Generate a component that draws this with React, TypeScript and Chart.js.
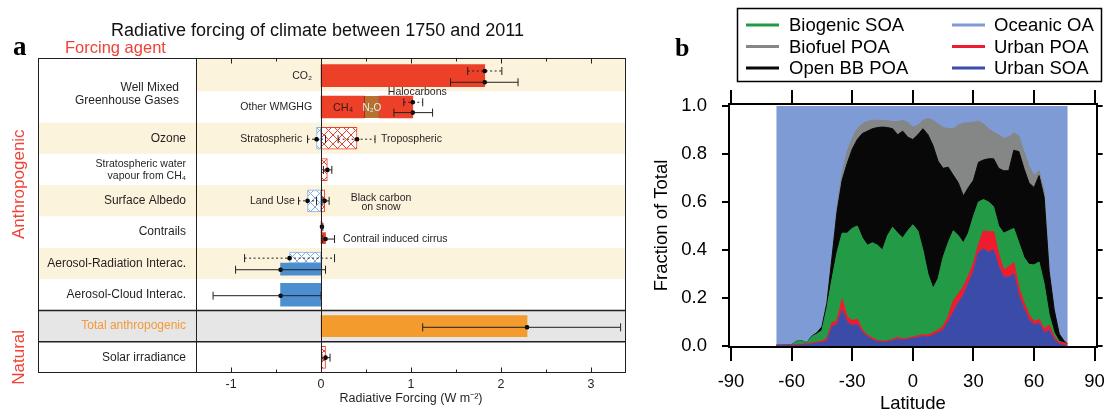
import React, { useEffect, useRef } from "react";
import { Chart, registerables } from "chart.js";

Chart.register(...registerables);

const SANS = '"Liberation Sans", Arial, Helvetica, sans-serif';
const SERIF = '"Liberation Serif", "Times New Roman", serif';
Chart.defaults.font.family = SANS;

/* ================= Panel a : radiative forcing ================= */
const titleA = "Radiative forcing of climate between 1750 and 2011";
const forcingTickLabels = [-1, 0, 1, 2, 3];

const agentLabels = [
  { row: 0.5, lines: ["Well Mixed", "Greenhouse Gases"] },
  { row: 2, lines: ["Ozone"] },
  { row: 3, lines: ["Stratospheric water", "vapour from CH\u2084"] },
  { row: 4, lines: ["Surface Albedo"] },
  { row: 5, lines: ["Contrails"] },
  { row: 6, lines: ["Aerosol-Radiation Interac."] },
  { row: 7, lines: ["Aerosol-Cloud Interac."] },
  { row: 8, lines: ["Total anthropogenic"] },
  { row: 9, lines: ["Solar irradiance"] },
];

// floating bars: y = row position, x = [start, end] in W m-2
const redSolidBars = [
  { y: 0, x: [0, 1.82] },
  { y: 1, x: [0, 0.48] },
  { y: 1, x: [0.65, 1.02] },
];
const n2oBars = [{ y: 1, x: [0.48, 0.65] }];
const redHatchBars = [
  { y: 2, x: [0, 0.4] },
  { y: 3, x: [0, 0.07] },
  { y: 4, x: [0, 0.04] },
  { y: 9, x: [0, 0.05] },
];
const blueHatchBars = [
  { y: 2, x: [-0.05, 0] },
  { y: 4, x: [-0.15, 0] },
];
const redSolidHalfBars = [
  { y: 4.83, x: [0, 0.01] },
  { y: 5.19, x: [0, 0.05] },
];
const blueHatchHalfBars = [{ y: 5.81, x: [-0.35, 0] }];
const blueSolidHalfBars = [{ y: 6.18, x: [-0.45, 0] }];
const blueSolidBars = [{ y: 7, x: [-0.45, 0] }];
const totalBars = [{ y: 8, x: [0, 2.29] }];

// uncertainty ranges
const errorBars = [
  { y: -0.15, lo: 1.63, best: 1.82, hi: 2.01, dotted: true },
  { y: 0.21, lo: 1.44, best: 1.82, hi: 2.19, dotted: false },
  { y: 0.85, lo: 0.92, best: 1.02, hi: 1.13, dotted: true },
  { y: 1.18, lo: 0.81, best: 1.02, hi: 1.24, dotted: false },
  { y: 2.03, lo: -0.15, best: -0.05, hi: 0.05, dotted: true },
  { y: 2.03, lo: 0.19, best: 0.4, hi: 0.6, dotted: true },
  { y: 3.01, lo: 0.026, best: 0.07, hi: 0.12, dotted: false },
  { y: 4.0, lo: -0.25, best: -0.15, hi: -0.05, dotted: true },
  { y: 4.0, lo: 0.02, best: 0.04, hi: 0.09, dotted: false },
  { y: 4.83, lo: 0.005, best: 0.01, hi: 0.02, dotted: false },
  { y: 5.22, lo: 0.02, best: 0.05, hi: 0.15, dotted: false },
  { y: 5.83, lo: -0.85, best: -0.35, hi: 0.15, dotted: true },
  { y: 6.2, lo: -0.95, best: -0.45, hi: 0.05, dotted: false },
  { y: 7.03, lo: -1.2, best: -0.45, hi: 0.0, dotted: false },
  { y: 8.04, lo: 1.13, best: 2.29, hi: 3.33, dotted: false },
  { y: 9.01, lo: 0.01, best: 0.05, hi: 0.1, dotted: false },
];

const plotNotes = [
  { text: "CO\u2082", x: -0.1, y: 0, align: "right" },
  { text: "Other WMGHG", x: -0.1, y: 1, align: "right" },
  { text: "Halocarbons", x: 1.07, y: 0.52, align: "center" },
  { text: "Stratospheric", x: -0.21, y: 2.02, align: "right" },
  { text: "Tropospheric", x: 0.667, y: 2.02, align: "left" },
  { text: "Land Use", x: -0.29, y: 4.0, align: "right" },
  { text: "Black carbon", x: 0.667, y: 3.9, align: "center" },
  { text: "on snow", x: 0.667, y: 4.19, align: "center" },
  { text: "Contrail induced cirrus", x: 0.245, y: 5.22, align: "left" },
];

/* ================= Panel b : OA fractions vs latitude ================= */
const latitudes = [
  -67.5, -65, -62.5, -60, -57.5, -55, -52.5, -50, -47.5, -45, -42.5, -40, -37.5, -35, -32.5,
  -30, -27.5, -25, -22.5, -20, -17.5, -15, -12.5, -10, -7.5, -5, -2.5, 0, 2.5, 5, 7.5, 10,
  12.5, 15, 17.5, 20, 22.5, 25, 27.5, 30, 32.5, 35, 37.5, 40, 42.5, 45, 47.5, 50, 52.5, 55,
  57.5, 60, 62.5, 65, 67.5, 70, 72.5, 75, 76.5,
];
// cumulative (stacked) upper boundaries of each layer
const urbanSOATop = [
  0.003, 0.003, 0.003, 0.003, 0.003, 0.004, 0.005, 0.008, 0.012, 0.015, 0.02, 0.08, 0.09, 0.15, 0.1,
  0.085, 0.09, 0.055, 0.04, 0.025, 0.018, 0.016, 0.017, 0.022, 0.028, 0.025, 0.028, 0.032, 0.035, 0.04, 0.037, 0.045,
  0.055, 0.065, 0.1, 0.14, 0.18, 0.21, 0.26, 0.31, 0.39, 0.405, 0.39, 0.4, 0.33, 0.287, 0.287, 0.3, 0.21, 0.155,
  0.11, 0.088, 0.095, 0.055, 0.065, 0.025, 0.008, 0.002, 0.001,
];
const urbanPOATop = [
  0.003, 0.003, 0.003, 0.004, 0.005, 0.006, 0.008, 0.012, 0.016, 0.02, 0.03, 0.095, 0.105, 0.19, 0.12,
  0.105, 0.11, 0.065, 0.045, 0.032, 0.022, 0.02, 0.021, 0.026, 0.035, 0.029, 0.033, 0.037, 0.042, 0.046, 0.045, 0.055,
  0.065, 0.08, 0.12, 0.185, 0.215, 0.245, 0.29, 0.34, 0.42, 0.478, 0.475, 0.475, 0.38, 0.315, 0.33, 0.345, 0.24, 0.18,
  0.13, 0.1, 0.11, 0.07, 0.085, 0.035, 0.015, 0.012, 0.01,
];
const biogenicSOATop = [
  0.003, 0.003, 0.004, 0.006, 0.02, 0.022, 0.013, 0.04, 0.05, 0.065, 0.16, 0.28, 0.39, 0.47, 0.47,
  0.49, 0.5, 0.45, 0.42, 0.43, 0.42, 0.4, 0.46, 0.495, 0.47, 0.45, 0.48, 0.505, 0.48, 0.4, 0.3, 0.24,
  0.28, 0.37, 0.43, 0.48, 0.46, 0.43, 0.47, 0.54, 0.6, 0.61, 0.6, 0.58, 0.5, 0.47, 0.48, 0.49, 0.43, 0.37,
  0.34, 0.338, 0.35, 0.26, 0.13, 0.055, 0.02, 0.013, 0.01,
];
const openBBPOATop = [
  0.003, 0.003, 0.004, 0.006, 0.02, 0.022, 0.014, 0.042, 0.055, 0.08, 0.18, 0.37, 0.56, 0.69, 0.76,
  0.82, 0.86, 0.885, 0.895, 0.905, 0.91, 0.912, 0.91, 0.905, 0.88, 0.895, 0.87, 0.86, 0.88, 0.905, 0.88, 0.835,
  0.77, 0.74, 0.745, 0.712, 0.68, 0.625, 0.66, 0.69, 0.765, 0.775, 0.78, 0.78, 0.74, 0.73, 0.73, 0.815, 0.81, 0.74,
  0.68, 0.66, 0.71, 0.62, 0.31, 0.15, 0.05, 0.02, 0.01,
];
const biofuelPOATop = [
  0.003, 0.003, 0.004, 0.006, 0.02, 0.022, 0.014, 0.042, 0.056, 0.082, 0.185, 0.38, 0.58, 0.72, 0.81,
  0.865, 0.905, 0.925, 0.935, 0.94, 0.94, 0.94, 0.938, 0.935, 0.935, 0.94, 0.93, 0.912, 0.92, 0.94, 0.948, 0.94,
  0.925, 0.91, 0.905, 0.905, 0.92, 0.928, 0.93, 0.932, 0.937, 0.925, 0.905, 0.89, 0.88, 0.865, 0.87, 0.887, 0.875, 0.81,
  0.75, 0.71, 0.73, 0.645, 0.32, 0.155, 0.052, 0.02, 0.01,
];
const oceanicLatRange = [-67.6, 76.7];
const oceanicTop = 1.0;
const latTickStep = 30;
const fractionTickStep = 0.2;

const legendOrder = ["Biogenic SOA", "Biofuel POA", "Open BB POA", "Oceanic OA", "Urban POA", "Urban SOA"];

/* ================= styles ================= */
const INK = "#231f20";
const RED = "#ec4128";
const BROWN = "#b8712e";
const ORANGE = "#f39b2d";
const BLUE = "#4b8fd1";
const BLUE_HATCH = "#7fb0e0";
const BEIGE = "#fcf3dc";
const GREYBAND = "#e6e6e6";
const plotBand = [BEIGE, "#fff", BEIGE, "#fff", BEIGE, "#fff", BEIGE, "#fff", GREYBAND, "#fff"];
const labelBand = ["#fff", "#fff", BEIGE, "#fff", BEIGE, "#fff", BEIGE, "#fff", GREYBAND, "#fff"];
const FRAME_LEFT = 38;

const C_OCEAN = "#7e9bd6";
const C_BIOG = "#229a46";
const C_BIOF = "#858786";
const C_OPEN = "#080808";
const C_UPOA = "#ed1c2e";
const C_USOA = "#3b4ca8";

function makeHatch(color: string) {
  const s = 9;
  const c = document.createElement("canvas");
  c.width = s;
  c.height = s;
  const g = c.getContext("2d")!;
  g.fillStyle = "#fff";
  g.fillRect(0, 0, s, s);
  g.strokeStyle = color;
  g.lineWidth = 1;
  g.beginPath();
  g.moveTo(0, 0);
  g.lineTo(s, s);
  g.moveTo(s, 0);
  g.lineTo(0, s);
  g.stroke();
  return g.createPattern(c, "repeat")!;
}

const panelAPlugin = {
  id: "panelA",
  beforeDatasetsDraw(chart: any) {
    const { ctx, chartArea: a, scales } = chart;
    const y = scales.y;
    ctx.save();
    for (let r = 0; r < 10; r++) {
      const top = r === 0 ? a.top : y.getPixelForValue(r - 0.5);
      const bot = r === 9 ? a.bottom : y.getPixelForValue(r + 0.5);
      ctx.fillStyle = labelBand[r];
      ctx.fillRect(FRAME_LEFT, top, a.left - FRAME_LEFT, bot - top);
      ctx.fillStyle = plotBand[r];
      ctx.fillRect(a.left, top, a.right - a.left, bot - top);
    }
    ctx.restore();
  },
  afterDatasetsDraw(chart: any) {
    const { ctx, chartArea: a, scales } = chart;
    const { x, y } = scales;
    ctx.save();
    // zero line
    ctx.strokeStyle = INK;
    ctx.lineWidth = 1;
    const x0 = Math.round(x.getPixelForValue(0)) + 0.5;
    ctx.beginPath();
    ctx.moveTo(x0, a.top);
    ctx.lineTo(x0, a.bottom);
    ctx.stroke();
    // error bars
    for (const e of errorBars) {
      const py = y.getPixelForValue(e.y);
      const pl = x.getPixelForValue(e.lo);
      const ph = x.getPixelForValue(e.hi);
      ctx.setLineDash(e.dotted ? [2, 2.5] : []);
      ctx.beginPath();
      ctx.moveTo(pl, py);
      ctx.lineTo(ph, py);
      ctx.stroke();
      ctx.setLineDash([]);
      ctx.beginPath();
      ctx.moveTo(pl, py - 4);
      ctx.lineTo(pl, py + 4);
      ctx.moveTo(ph, py - 4);
      ctx.lineTo(ph, py + 4);
      ctx.stroke();
    }
    ctx.restore();
  },
  afterDraw(chart: any) {
    const { ctx, chartArea: a, scales } = chart;
    const { x, y } = scales;
    ctx.save();
    ctx.strokeStyle = INK;
    ctx.lineWidth = 1;
    // frame
    ctx.strokeRect(FRAME_LEFT + 0.5, a.top + 0.5, a.right - FRAME_LEFT - 1, a.bottom - a.top - 1);
    ctx.beginPath();
    ctx.moveTo(a.left + 0.5, a.top);
    ctx.lineTo(a.left + 0.5, a.bottom);
    ctx.stroke();
    ctx.lineWidth = 1.5;
    for (const v of [7.5, 8.5]) {
      const py = y.getPixelForValue(v);
      ctx.beginPath();
      ctx.moveTo(FRAME_LEFT, py);
      ctx.lineTo(a.right, py);
      ctx.stroke();
    }
    // inward tick marks top & bottom
    ctx.lineWidth = 1;
    for (const t of x.ticks) {
      const px = Math.round(x.getPixelForValue(t.value)) + 0.5;
      const major = Math.abs(t.value - Math.round(t.value)) < 1e-6;
      const len = major ? 5.5 : 3.5;
      ctx.beginPath();
      ctx.moveTo(px, a.top);
      ctx.lineTo(px, a.top + len);
      ctx.moveTo(px, a.bottom);
      ctx.lineTo(px, a.bottom - len);
      ctx.stroke();
    }
    // title
    ctx.fillStyle = "#111";
    ctx.textBaseline = "alphabetic";
    ctx.textAlign = "left";
    ctx.font = `18px ${SANS}`;
    ctx.fillText(titleA, 111, 36);
    ctx.fillStyle = "#ef4136";
    ctx.font = `16.5px ${SANS}`;
    ctx.fillText("Forcing agent", 65, 53);
    ctx.fillStyle = "#000";
    ctx.font = `bold 27px ${SERIF}`;
    ctx.fillText("a", 13, 55);
    // side labels
    ctx.fillStyle = "#ef4136";
    ctx.font = `17px ${SANS}`;
    ctx.textAlign = "center";
    ctx.textBaseline = "middle";
    const side = [
      { t: "Anthropogenic", cy: (a.top + y.getPixelForValue(7.5)) / 2 },
      { t: "Natural", cy: (y.getPixelForValue(8.5) + a.bottom) / 2 },
    ];
    for (const s of side) {
      ctx.save();
      ctx.translate(19, s.cy);
      ctx.rotate(-Math.PI / 2);
      ctx.fillText(s.t, 0, 0);
      ctx.restore();
    }
    // label column
    ctx.textAlign = "right";
    for (const lab of agentLabels) {
      const cy = y.getPixelForValue(lab.row);
      const small = lab.lines[0].startsWith("Stratospheric");
      ctx.font = `${small ? 10.5 : 12}px ${SANS}`;
      ctx.fillStyle = lab.row === 8 ? "#f39a3a" : INK;
      if (lab.lines.length === 1) {
        ctx.fillText(lab.lines[0], a.left - 10, cy);
      } else if (lab.row === 0.5) {
        ctx.fillText(lab.lines[0], a.left - 17, cy - 3.5);
        ctx.fillText(lab.lines[1], a.left - 17, cy + 9);
      } else {
        ctx.fillText(lab.lines[0], a.left - 10, cy - 5.5);
        ctx.fillText(lab.lines[1], a.left - 10, cy + 6.5);
      }
    }
    // notes inside plot
    ctx.font = `10.5px ${SANS}`;
    ctx.fillStyle = INK;
    for (const n of plotNotes) {
      ctx.textAlign = n.align as CanvasTextAlign;
      ctx.fillText(n.text, x.getPixelForValue(n.x), y.getPixelForValue(n.y));
    }
    ctx.textAlign = "center";
    ctx.font = `11px ${SANS}`;
    ctx.fillStyle = "#3a1a10";
    ctx.fillText("CH\u2084", x.getPixelForValue(0.245), y.getPixelForValue(1.03));
    ctx.font = `10px ${SANS}`;
    ctx.fillStyle = "#e6eef8";
    ctx.fillText("N\u2082O", x.getPixelForValue(0.565), y.getPixelForValue(1.03));
    // axis title
    ctx.fillStyle = INK;
    ctx.font = `12.5px ${SANS}`;
    ctx.fillText("Radiative Forcing (W m\u207B\u00B2)", (a.left + a.right) / 2, 399);
    ctx.restore();
  },
};

const panelBPlugin = {
  id: "panelB",
  afterDraw(chart: any) {
    const { ctx } = chart;
    ctx.save();
    ctx.fillStyle = "#000";
    ctx.textAlign = "left";
    ctx.textBaseline = "alphabetic";
    ctx.font = `bold 26px ${SERIF}`;
    ctx.fillText("b", 35, 56);
    ctx.strokeStyle = "#000";
    ctx.lineWidth = 1.5;
    ctx.strokeRect(97.5, 8.5, 364, 73);
    const cols = [
      { lx: 106, tx: 149 },
      { lx: 312, tx: 354 },
    ];
    const rowsY = [25, 46.5, 68];
    ctx.font = `18.5px ${SANS}`;
    ctx.textBaseline = "middle";
    legendOrder.forEach((name, i) => {
      const ds = chart.data.datasets.find((d: any) => d.label === name);
      const c = cols[Math.floor(i / 3)];
      const yy = rowsY[i % 3];
      ctx.strokeStyle = ds.backgroundColor;
      ctx.lineWidth = 3;
      ctx.beginPath();
      ctx.moveTo(c.lx, yy);
      ctx.lineTo(c.lx + 33, yy);
      ctx.stroke();
      ctx.fillStyle = "#000";
      ctx.fillText(name, c.tx, yy + 1);
    });
    ctx.restore();
  },
};

function buildConfigA(): any {
  const redHatch = makeHatch(RED);
  const blueHatch = makeHatch(BLUE_HATCH);
  const base = { stack: "all", borderSkipped: false, grouped: true };
  return {
    type: "bar",
    data: {
      datasets: [
        {
          type: "scatter",
          label: "best estimate",
          data: errorBars.map((e) => ({ x: e.best, y: e.y })),
          pointRadius: 2.3,
          pointHoverRadius: 2.3,
          backgroundColor: "#000",
          borderWidth: 0,
        },
        { ...base, label: "ERF", data: redSolidBars, backgroundColor: RED, borderWidth: 0, barThickness: 22 },
        {
          ...base,
          label: "N2O",
          data: n2oBars,
          backgroundColor: BROWN,
          borderColor: "#2a1a10",
          borderWidth: { left: 1, right: 1, top: 0, bottom: 0 },
          barThickness: 22,
        },
        { ...base, label: "RF +", data: redHatchBars, backgroundColor: redHatch, borderColor: RED, borderWidth: 1, barThickness: 22 },
        { ...base, label: "RF -", data: blueHatchBars, backgroundColor: blueHatch, borderColor: BLUE_HATCH, borderWidth: 1, barThickness: 22 },
        { ...base, label: "ERF small", data: redSolidHalfBars, backgroundColor: RED, borderWidth: 0, barThickness: 11 },
        { ...base, label: "RF aer", data: blueHatchHalfBars, backgroundColor: blueHatch, borderColor: BLUE_HATCH, borderWidth: 1, barThickness: 11 },
        { ...base, label: "ERF aer", data: blueSolidHalfBars, backgroundColor: BLUE, borderWidth: 0, barThickness: 12 },
        { ...base, label: "ERF aci", data: blueSolidBars, backgroundColor: BLUE, borderWidth: 0, barThickness: 23 },
        { ...base, label: "Total", data: totalBars, backgroundColor: ORANGE, borderWidth: 0, barThickness: 21 },
      ],
    },
    options: {
      indexAxis: "y",
      responsive: false,
      animation: false,
      events: [],
      layout: { padding: { left: 196, right: 9, top: 58, bottom: 0 } },
      plugins: { legend: { display: false }, tooltip: { enabled: false }, title: { display: false } },
      scales: {
        x: {
          type: "linear",
          min: -1.39,
          max: 3.39,
          offset: false,
          stacked: false,
          grid: { display: false, drawTicks: false },
          border: { display: false },
          ticks: {
            stepSize: 0.5,
            includeBounds: false,
            autoSkip: false,
            maxRotation: 0,
            padding: 4.5,
            color: INK,
            font: { family: SANS, size: 12.5 },
            callback: (v: number) => {
              const r = Math.round(v);
              return Math.abs(v - r) < 1e-6 && forcingTickLabels.includes(r) ? String(r) : "";
            },
          },
          afterFit: (s: any) => {
            s.height = 39;
          },
        },
        y: { type: "linear", min: -0.565, max: 9.5, reverse: true, display: false, offset: false },
      },
    },
    plugins: [panelAPlugin],
  };
}

function buildConfigB(): any {
  const pts = (arr: number[]) => latitudes.map((lat, i) => ({ x: lat, y: arr[i] }));
  const layer = (label: string, arr: number[], color: string, fill: any) => ({
    label,
    data: pts(arr),
    backgroundColor: color,
    borderColor: color,
    borderWidth: 1,
    fill,
  });
  const font = { family: SANS, size: 18.5 };
  const gridOut = (len: number) => ({
    display: true,
    drawOnChartArea: false,
    drawTicks: true,
    tickLength: len,
    color: "#000",
    lineWidth: 2,
  });
  const border = { display: true, color: "#000", width: 2 };
  return {
    type: "line",
    data: {
      datasets: [
        layer("Urban SOA", urbanSOATop, C_USOA, "origin"),
        { ...layer("Urban POA", urbanPOATop, C_UPOA, "-1"), borderWidth: 1.5 },
        layer("Biogenic SOA", biogenicSOATop, C_BIOG, "-1"),
        layer("Open BB POA", openBBPOATop, C_OPEN, "-1"),
        layer("Biofuel POA", biofuelPOATop, C_BIOF, "-1"),
        {
          label: "Oceanic OA",
          data: oceanicLatRange.map((lat) => ({ x: lat, y: oceanicTop })),
          backgroundColor: C_OCEAN,
          borderColor: "transparent",
          borderWidth: 0,
          fill: "origin",
          order: 10,
        },
      ],
    },
    options: {
      responsive: false,
      animation: false,
      events: [],
      elements: { point: { radius: 0 }, line: { tension: 0 } },
      layout: { padding: { left: 0, right: 0, top: 90, bottom: 0 } },
      plugins: { legend: { display: false }, tooltip: { enabled: false }, filler: { propagate: false } },
      scales: {
        x: {
          type: "linear",
          position: "bottom",
          min: -91,
          max: 91,
          grid: gridOut(14),
          border,
          ticks: { stepSize: latTickStep, includeBounds: false, autoSkip: false, maxRotation: 0, padding: 10, color: "#000", font },
          title: { display: true, text: "Latitude", color: "#000", font: { ...font, lineHeight: 0.9 }, padding: 0 },
          afterFit: (s: any) => {
            s.height = 65;
          },
        },
        x2: {
          type: "linear",
          position: "top",
          min: -91,
          max: 91,
          grid: gridOut(14),
          border,
          ticks: { display: false, stepSize: latTickStep, includeBounds: false, autoSkip: false },
          afterFit: (s: any) => {
            s.height = 14;
          },
        },
        y: {
          type: "linear",
          position: "left",
          min: -0.004,
          max: 1.008,
          grid: gridOut(7),
          border,
          ticks: {
            stepSize: fractionTickStep,
            includeBounds: false,
            autoSkip: false,
            padding: 15,
            color: "#000",
            font,
            callback: (v: number) => Number(v).toFixed(1),
          },
          title: {
            display: true,
            text: "Fraction of Total",
            color: "#000",
            font: { ...font, lineHeight: 1 },
            padding: { top: 13, bottom: 0 },
          },
          afterFit: (s: any) => {
            s.width = 89;
          },
        },
        y2: {
          type: "linear",
          position: "right",
          min: -0.004,
          max: 1.008,
          grid: gridOut(6),
          border,
          ticks: { display: false, stepSize: fractionTickStep, includeBounds: false },
          afterFit: (s: any) => {
            s.width = 5;
          },
        },
      },
    },
    plugins: [panelBPlugin],
  };
}

export default function App() {
  const refA = useRef<HTMLCanvasElement>(null);
  const refB = useRef<HTMLCanvasElement>(null);
  useEffect(() => {
    const ca = new Chart(refA.current!, buildConfigA());
    const cb = new Chart(refB.current!, buildConfigB());
    return () => {
      ca.destroy();
      cb.destroy();
    };
  }, []);
  return (
    <div
      style={{
        position: "fixed",
        left: 0,
        top: 0,
        width: 1115,
        height: 412,
        background: "#fff",
        overflow: "hidden",
      }}
    >
      <canvas
        ref={refA}
        width={635}
        height={412}
        style={{ position: "absolute", left: 0, top: 0, width: 635, height: 412 }}
      />
      <canvas
        ref={refB}
        width={475}
        height={412}
        style={{ position: "absolute", left: 640, top: 0, width: 475, height: 412 }}
      />
    </div>
  );
}
